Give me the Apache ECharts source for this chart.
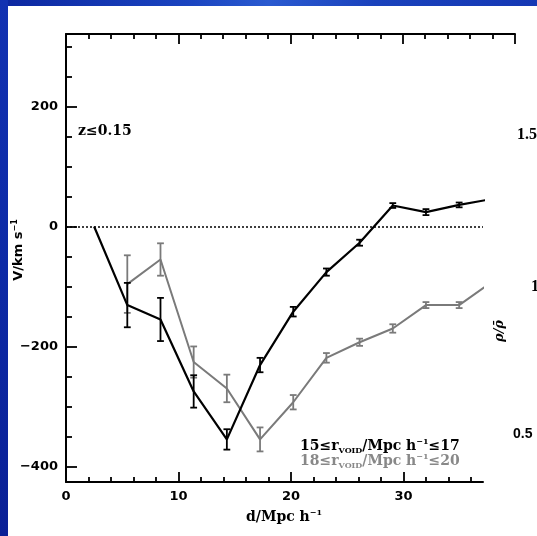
<!DOCTYPE html>
<html>
<head>
<meta charset="utf-8">
<script src="https://cdn.jsdelivr.net/npm/echarts@6/dist/echarts.min.js"></script>
<style>
  html, body { margin: 0; padding: 0; }
  body { width: 537px; height: 536px; position: relative; overflow: hidden; background: #1234b0; }
  #topbar { position: absolute; left: 0; top: 0; width: 537px; height: 6px;
    background: linear-gradient(90deg, #0c27a0 0%, #1a44c0 35%, #2a5ad0 50%, #1a42bc 70%, #1538b4 100%); }
  #leftbar { position: absolute; left: 0; top: 0; width: 8px; height: 536px;
    background: linear-gradient(180deg, #1232b2 0%, #0d2aa6 50%, #0a2096 100%); }
  #paper { position: absolute; left: 8px; top: 6px; right: 0; bottom: 0; background: #ffffff; }
  #chart { position: absolute; left: 0; top: 0; width: 537px; height: 536px; }
</style>
</head>
<body>
<div id="topbar"></div>
<div id="leftbar"></div>
<div id="paper"></div>
<div id="chart"></div>
<script>
// ---- data ----
const dist = [2.5, 5.45, 8.4, 11.35, 14.3, 17.25, 20.2, 23.15, 26.1, 29.05, 32.0, 34.95, 37.9];
const velSmall = [0, -131, -155, -275, -355, -231, -142, -76, -27, 35, 24, 36, 46];      // 15<=r<=17
const errSmall = [0, 37, 36, 27, 17, 12, 8, 6, 5, 4, 5, 4, 4];
const velLarge = [null, -96, -55, -226, -270, -355, -293, -219, -193, -170, -131, -131, -92]; // 18<=r<=20
const errLarge = [null, 48, 27, 26, 23, 20, 12, 8, 6, 7, 5, 5, 5];

const xMajorTicks = [0, 10, 20, 30];
const xMinorTicks = [2, 4, 6, 8, 12, 14, 16, 18, 22, 24, 26, 28, 32, 34, 36];
const topMajorTicks = [0, 10, 20, 30, 40];
const topMinorTicks = [2, 4, 6, 8, 12, 14, 16, 18, 22, 24, 26, 28, 32, 34, 36, 38];
const yMajorTicks = [-400, -200, 0, 200];
const yMinorTicks = [-350, -300, -250, -150, -100, -50, 50, 100, 150, 250, 300];

const BLACK = '#000000';
const GRAY = '#7a7a7a';

function pairs(xs, ys) {
  const out = [];
  xs.forEach((x, i) => { if (ys[i] !== null) out.push([x, ys[i]]); });
  return out;
}
function bars(xs, ys, es) {
  const out = [];
  xs.forEach((x, i) => { if (ys[i] !== null && es[i] > 0) out.push([x, ys[i] - es[i], ys[i] + es[i]]); });
  return out;
}
function errRenderer(color) {
  return function (params, api) {
    const x = api.value(0);
    const lo = api.coord([x, api.value(1)]);
    const hi = api.coord([x, api.value(2)]);
    const hw = 3.4;
    const st = { stroke: color, lineWidth: 1.8 };
    return {
      type: 'group',
      children: [
        { type: 'line', shape: { x1: hi[0], y1: hi[1], x2: lo[0], y2: lo[1] }, style: st },
        { type: 'line', shape: { x1: hi[0] - hw, y1: hi[1], x2: hi[0] + hw, y2: hi[1] }, style: st },
        { type: 'line', shape: { x1: lo[0] - hw, y1: lo[1], x2: lo[0] + hw, y2: lo[1] }, style: st }
      ]
    };
  };
}
function fmtNum(v) { return String(v).replace('-', '\u2212'); }

const tickFont = { fontFamily: 'DejaVu Sans', fontWeight: 'bold', fontSize: 13, color: '#000' };
const axisLineOn = { show: true, onZero: false, lineStyle: { color: '#000', width: 2 } };
const axisLineOff = { show: false, onZero: false };

const chart = echarts.init(document.getElementById('chart'), null, { renderer: 'canvas' });

const legendRich = function (color) {
  return {
    a: { fontFamily: 'DejaVu Serif', fontWeight: 'bold', fontSize: 14, fill: color },
    sub: { fontFamily: 'DejaVu Serif', fontWeight: 'bold', fontSize: 8, fill: color, padding: [9, 0, 0, 0] },
    sup: { fontFamily: 'DejaVu Serif', fontWeight: 'bold', fontSize: 8, fill: color, padding: [0, 0, 9, 0] }
  };
};

chart.setOption({
  backgroundColor: 'transparent',
  animation: false,
  grid: [
    { left: 66, top: 34, width: 417, height: 448, outerBoundsMode: 'none' },
    { left: 66, top: 34, width: 449, height: 448, outerBoundsMode: 'none' }
  ],
  xAxis: [
    { type: 'value', gridIndex: 0, position: 'bottom', min: 0, max: 37.07,
      axisLine: axisLineOn, splitLine: { show: false },
      axisTick: { show: true, inside: true, length: 10, customValues: xMajorTicks, lineStyle: { color: '#000', width: 1.8 } },
      axisLabel: Object.assign({ show: true, margin: 8, customValues: xMajorTicks, formatter: fmtNum }, tickFont) },
    { type: 'value', gridIndex: 0, position: 'bottom', min: 0, max: 37.07,
      axisLine: axisLineOff, splitLine: { show: false }, axisLabel: { show: false },
      axisTick: { show: true, inside: true, length: 5, customValues: xMinorTicks, lineStyle: { color: '#000', width: 1.8 } } },
    { type: 'value', gridIndex: 1, position: 'top', min: 0, max: 40,
      axisLine: axisLineOn, splitLine: { show: false }, axisLabel: { show: false },
      axisTick: { show: true, inside: true, length: 10, customValues: topMajorTicks, lineStyle: { color: '#000', width: 1.8 } } },
    { type: 'value', gridIndex: 1, position: 'top', min: 0, max: 40,
      axisLine: axisLineOff, splitLine: { show: false }, axisLabel: { show: false },
      axisTick: { show: true, inside: true, length: 5, customValues: topMinorTicks, lineStyle: { color: '#000', width: 1.8 } } }
  ],
  yAxis: [
    { type: 'value', gridIndex: 0, position: 'left', min: -426, max: 321,
      axisLine: axisLineOn, splitLine: { show: false },
      axisTick: { show: true, inside: true, length: 11, customValues: yMajorTicks, lineStyle: { color: '#000', width: 1.8 } },
      axisLabel: Object.assign({ show: true, margin: 8, customValues: yMajorTicks, formatter: fmtNum }, tickFont) },
    { type: 'value', gridIndex: 0, position: 'left', min: -426, max: 321,
      axisLine: axisLineOff, splitLine: { show: false }, axisLabel: { show: false },
      axisTick: { show: true, inside: true, length: 6, customValues: yMinorTicks, lineStyle: { color: '#000', width: 1.8 } } },
    { type: 'value', gridIndex: 1, show: false, min: -426, max: 321, axisLine: axisLineOff }
  ],
  series: [
    { type: 'line', name: 'large', xAxisIndex: 0, yAxisIndex: 0, data: pairs(dist, velLarge),
      showSymbol: false, clip: true, lineStyle: { color: GRAY, width: 2 }, z: 3 },
    { type: 'custom', xAxisIndex: 0, yAxisIndex: 0, data: bars(dist, velLarge, errLarge),
      renderItem: errRenderer(GRAY), clip: true, z: 3 },
    { type: 'line', name: 'small', xAxisIndex: 0, yAxisIndex: 0, data: pairs(dist, velSmall),
      showSymbol: false, clip: true, lineStyle: { color: BLACK, width: 2.2 }, z: 4,
      markLine: { silent: true, symbol: ['none', 'none'], label: { show: false },
        lineStyle: { color: '#000', width: 1.5, type: [2, 2] }, data: [{ yAxis: 0 }] } },
    { type: 'custom', xAxisIndex: 0, yAxisIndex: 0, data: bars(dist, velSmall, errSmall),
      renderItem: errRenderer(BLACK), clip: true, z: 4 }
  ],
  graphic: [
    { type: 'text', left: 78, top: 124, style: { text: 'z\u22640.15', fontFamily: 'DejaVu Serif', fontWeight: 'bold', fontSize: 14, fill: '#000' } },
    { type: 'text', x: 284, y: 517, style: { text: '{a|d/Mpc h}{sup|\u22121}', textAlign: 'center', textVerticalAlign: 'middle',
      rich: legendRich('#000') } },
    { type: 'text', x: 19, y: 250, rotation: Math.PI / 2,
      style: { text: '{a|V/km s}{sup|\u22121}', textAlign: 'center', textVerticalAlign: 'middle',
        rich: {
          a: { fontFamily: 'DejaVu Sans', fontWeight: 'bold', fontSize: 13, fill: '#000' },
          sup: { fontFamily: 'DejaVu Sans', fontWeight: 'bold', fontSize: 8, fill: '#000', padding: [0, 0, 9, 0] }
        } } },
    { type: 'text', x: 300, y: 446, style: { text: '{a|15\u2264r}{sub|VOID}{a|/Mpc h}{sup|\u22121}{a|\u226417}',
      textAlign: 'left', textVerticalAlign: 'middle', rich: legendRich('#000') } },
    { type: 'text', x: 300, y: 461, style: { text: '{a|18\u2264r}{sub|VOID}{a|/Mpc h}{sup|\u22121}{a|\u226420}',
      textAlign: 'left', textVerticalAlign: 'middle', rich: legendRich('#888888') } },
    { type: 'text', x: 517, y: 135, style: { text: '1.5', fontFamily: 'Liberation Serif', fontWeight: 'bold', fontSize: 16, fill: '#000', textVerticalAlign: 'middle' } },
    { type: 'text', x: 531, y: 287, style: { text: '1', fontFamily: 'Liberation Serif', fontWeight: 'bold', fontSize: 16, fill: '#000', textVerticalAlign: 'middle' } },
    { type: 'text', x: 513, y: 434, style: { text: '0.5', fontFamily: 'Liberation Sans', fontWeight: 'bold', fontSize: 14, fill: '#000', textVerticalAlign: 'middle' } },
    { type: 'text', x: 500, y: 331, rotation: Math.PI / 2,
      style: { text: '\u03C1/\u03C1\u0304', fontFamily: 'DejaVu Serif', fontStyle: 'italic', fontWeight: 'bold', fontSize: 13, fill: '#000', textAlign: 'center', textVerticalAlign: 'middle' } }
  ]
});
</script>
</body>
</html>
